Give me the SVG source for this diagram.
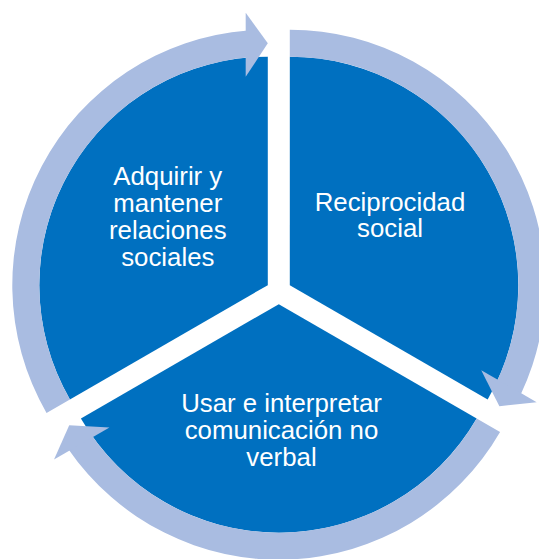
<svg xmlns="http://www.w3.org/2000/svg" xmlns:xlink="http://www.w3.org/1999/xlink" width="539" height="559" viewBox="0 0 539 559">
<style>
.seg{fill:#0070C0}
.ring{fill:#A9BCE1}
.lbl{font-family:"Liberation Sans",Arial,sans-serif;font-size:25.8px;fill:#FFFFFF;text-anchor:middle}
</style>
<defs>
<path id="wedge" class="seg" d="M278.8,291.5 L80.92,405.75 A228.5,228.5 0 0 1 278.8,63 Z"/>
<g id="arrow" class="ring">
<path d="M57.53,419.25 A255.5,255.5 0 0 1 258.75,36.79 L260.87,63.70 A228.5,228.5 0 0 0 80.92,405.75 Z"/>
<polygon points="256.7,19.2 278.8,49.5 256.7,83.2"/>
</g>
</defs>
<rect width="539" height="559" fill="#FFFFFF"/>
<g id="node-adquirir">
<use xlink:href="#wedge" transform="translate(-11,-6.35)"/>
<text class="lbl" x="167.8"><tspan x="167.8" y="184.5">Adquirir y</tspan><tspan x="167.8" y="212">mantener</tspan><tspan x="167.8" y="239.3">relaciones</tspan><tspan x="167.8" y="266">sociales</tspan></text>
</g>
<g id="node-reciprocidad">
<use xlink:href="#wedge" transform="rotate(120 278.8 291.5) translate(-11,-6.35)"/>
<text class="lbl" x="390"><tspan x="390" y="210.5">Reciprocidad</tspan><tspan x="390" y="237">social</tspan></text>
</g>
<g id="node-comunicacion">
<use xlink:href="#wedge" transform="rotate(240 278.8 291.5) translate(-11,-6.35)"/>
<text class="lbl" x="281.5"><tspan x="281.5" y="411.5">Usar e interpretar</tspan><tspan x="281.5" y="438.5">comunicación no</tspan><tspan x="281.5" y="465.5">verbal</tspan></text>
</g>
<g id="connectors">
<use xlink:href="#arrow" transform="translate(-11,-6.35)"/>
<use xlink:href="#arrow" transform="rotate(120 278.8 291.5) translate(-11,-6.35)"/>
<use xlink:href="#arrow" transform="rotate(240 278.8 291.5) translate(-11,-6.35)"/>
</g>
</svg>
